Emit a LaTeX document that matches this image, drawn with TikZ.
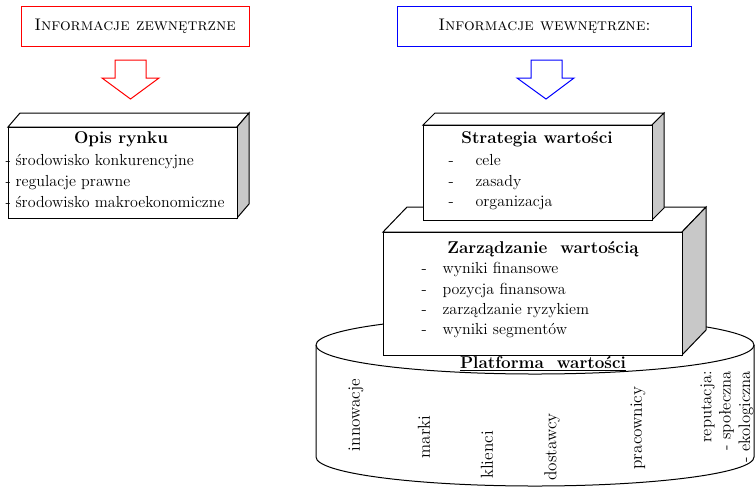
\documentclass[tikz,border=0pt]{standalone}
\usepackage{tikz}
\tikzset{every picture/.style={line width=0.75pt}}

\begin{document}
\begin{tikzpicture}[x=0.75pt,y=0.75pt,yscale=-1,xscale=1,
	itemtext/.style={anchor=west, inner sep=0pt, text height=8.5pt, text depth=2.5pt, font=\fontsize{12}{14}\selectfont},
	boxtitle/.style={inner sep=0pt, font=\fontsize{12.8}{14}\selectfont\bfseries},
	headtext/.style={minimum height=30pt, font=\fontsize{12.6}{14}\selectfont\scshape},
	pillar/.style={rotate=90, inner sep=0pt, font=\fontsize{13}{15}\selectfont},
	sideface/.style={fill={rgb, 255:red, 200; green, 200; blue, 200 }}]
	\path[use as bounding box] (0,0) rectangle (755,487);
	
	%Shape: Rectangle [id:head_ext] 
	\node (headExt) at (135,26) [headtext, draw={rgb, 255:red, 255; green, 0; blue, 0 }, minimum width=171pt] {Informacje zewnętrzne};
	%Shape: Rectangle [id:head_int] 
	\node (headInt) at (544.5,26) [headtext, draw={rgb, 255:red, 0; green, 0; blue, 255 }, minimum width=221pt] {Informacje wewnętrzne:};
	
	%Shape: Down Arrow [id:arrow_ext] 
	\draw  [color={rgb, 255:red, 255; green, 0; blue, 0 }  ,draw opacity=1 ] (115,60) -- (146,60) -- (146,78) -- (159,78) -- (130.5,99) -- (102,78) -- (115,78) -- cycle ;
	%Shape: Down Arrow [id:arrow_int] 
	\draw  [color={rgb, 255:red, 0; green, 0; blue, 255 }  ,draw opacity=1 ] (531,60) -- (562,60) -- (562,78) -- (574,78) -- (546,99) -- (517,78) -- (531,78) -- cycle ;
	
	%Shape: Cube [id:box_opis] 
	\draw  [fill=white] (8,127) -- (20,113) -- (249,113) -- (237,127) -- cycle ;
	\draw  [sideface] (237,127) -- (249,113) -- (249,204) -- (237,218) -- cycle ;
	\draw  [fill=white] (8,127) -- (237,127) -- (237,218) -- (8,218) -- cycle ;
	
	%Shape: Can [id:can_platform] 
	\draw  [fill=white] (316,345) -- (316,457) arc (180:0:219 and 29) -- (754,345) arc (0:-180:219 and 29) -- cycle ;
	\draw  (316,345) arc (180:0:219 and 29) ;
	
	%Shape: Cube [id:box_zarzadzanie] 
	\draw  [fill=white] (383,232) -- (407,207) -- (706,207) -- (682,232) -- cycle ;
	\draw  [sideface] (682,232) -- (706,207) -- (706,330) -- (682,355) -- cycle ;
	\draw  [fill=white] (383,232) -- (682,232) -- (682,355) -- (383,355) -- cycle ;
	
	%Shape: Cube [id:box_strategia] 
	\draw  [fill=white] (423,125) -- (435,113) -- (664,113) -- (652,125) -- cycle ;
	\draw  [sideface] (652,125) -- (664,113) -- (664,208) -- (652,220) -- cycle ;
	\draw  [fill=white] (423,125) -- (652,125) -- (652,220) -- (423,220) -- cycle ;
	
	% Text Node
	\node (opisTitle) at (121,139) [boxtitle] {Opis rynku};
	\node (opisA) at (15,161) [itemtext] {środowisko konkurencyjne};
	\node (opisB) at (15,182) [itemtext] {regulacje prawne};
	\node (opisC) at (15,203) [itemtext] {środowisko makroekonomiczne};
	\node (opisDashA) at (5,161) [itemtext] {-};
	\node (opisDashB) at (5,182) [itemtext] {-};
	\node (opisDashC) at (5,203) [itemtext] {-};
	
	% Text Node
	\node (stratTitle) at (537,139) [boxtitle] {Strategia wartości};
	\node (stratA) at (475,161) [itemtext] {cele};
	\node (stratB) at (475,182) [itemtext] {zasady};
	\node (stratC) at (475,202) [itemtext] {organizacja};
	\node (stratDashA) at (448,161) [itemtext] {-};
	\node (stratDashB) at (448,182) [itemtext] {-};
	\node (stratDashC) at (448,202) [itemtext] {-};
	
	% Text Node
	\node (zarzTitle) at (543,249) [boxtitle] {Zarządzanie\ \ wartością};
	\node (zarzA) at (442,269) [itemtext] {wyniki finansowe};
	\node (zarzB) at (442,290) [itemtext] {pozycja finansowa};
	\node (zarzC) at (442,310) [itemtext] {zarządzanie ryzykiem};
	\node (zarzD) at (442,330) [itemtext] {wyniki segmentów};
	\node (zarzDashA) at (421,269) [itemtext] {-};
	\node (zarzDashB) at (421,290) [itemtext] {-};
	\node (zarzDashC) at (421,310) [itemtext] {-};
	\node (zarzDashD) at (421,330) [itemtext] {-};
	
	% Text Node
	\node (platTitle) at (543,364) [boxtitle] {\underline{Platforma\ \ wartości}};
	\node (innowacje) at (356,415) [pillar] {innowacje};
	\node (marki) at (424,437) [pillar] {marki};
	\node (klienci) at (487,455) [pillar] {klienci};
	\node (dostawcy) at (552,447) [pillar] {dostawcy};
	\node (pracownicy) at (638,428) [pillar] {pracownicy};
	\node (reputacja) at (727,417) [pillar, align=right, font=\fontsize{12.5}{14.5}\selectfont] {reputacja:\\- społeczna\\- ekologiczna};
\end{tikzpicture}
\end{document}
